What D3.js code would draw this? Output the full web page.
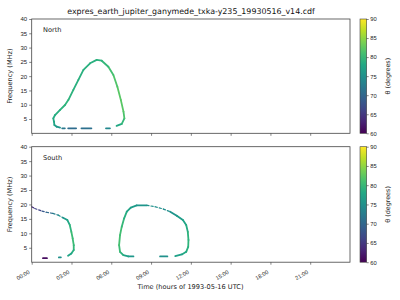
<!DOCTYPE html>
<html>
<head>
<meta charset="utf-8">
<script src="https://cdn.jsdelivr.net/npm/d3@7"></script>
<style>
  html, body { margin: 0; padding: 0; background: #fff; }
  svg { display: block; font-family: "DejaVu Sans", sans-serif; }
  .tick text { fill: #222; }
</style>
</head>
<body>
<svg id="chart" width="400" height="300"></svg>
<script>
// ==========================================================
// DATA
// each point: [hour of day, frequency MHz, theta degrees]
// ==========================================================

const titleText = "expres_earth_jupiter_ganymede_txka-y235_19930516_v14.cdf";
const xTickHours = [0, 3, 6, 9, 12, 15, 18, 21];
const yTicks = [5, 10, 15, 20, 25, 30, 35, 40];
const thetaTicks = [60, 65, 70, 75, 80, 85, 90];

const northLoop = [
    [6.40, 2.6, 77], [6.79, 3.3, 79], [6.99, 5.2, 81], [6.92, 7.6, 82],
    [6.72, 11.7, 82.5], [6.46, 16.3, 82], [6.16, 20.4, 81.5], [5.78, 23.3, 80.5],
    [5.28, 25.4, 79.5], [4.90, 25.7, 79], [4.40, 24.5, 79], [3.90, 22.2, 79],
    [3.52, 18.7, 79], [3.14, 15.2, 79], [2.77, 11.7, 79.5], [2.51, 9.9, 79.5],
    [2.14, 8.2, 79], [1.76, 6.4, 78.5], [1.63, 5.2, 78.5], [1.68, 4.06, 78],
    [1.71, 2.9, 77.5], [1.89, 2.3, 76.5], [2.14, 2.0, 75]
];
const northDashes = [
    [[2.3, 1.75, 72], [2.5, 1.75, 72]],
    [[2.75, 1.75, 70.5], [3.35, 1.75, 70.5]],
    [[3.75, 1.75, 71], [4.5, 1.75, 71]],
    [[5.6, 1.75, 74], [5.9, 1.75, 74]]
];

const southArcA = [
    [2.36, 15.4, 75.6], [2.69, 14.6, 77], [2.87, 12.9, 78.6], [2.99, 10.5, 80.4],
    [3.09, 8.2, 80.5], [3.17, 5.9, 80.5], [3.17, 4.2, 79.5], [2.99, 3.0, 78],
    [2.74, 2.2, 77]
];
const southArcASparse = [
    [0.00, 19.2, 63], [0.23, 18.6, 64.5], [0.78, 17.7, 67.5], [1.10, 17.3, 69],
    [1.60, 16.9, 71.4], [2.00, 16.3, 74], [2.36, 15.4, 75.6]
];
const southDashesA = [
    [[0.85, 1.4, 61], [1.15, 1.4, 61]],
    [[2.05, 1.66, 75], [2.2, 1.7, 75]]
];
const southLoop = [
    [7.67, 2.0, 76], [7.29, 2.0, 76], [6.91, 2.46, 78], [6.66, 3.6, 80],
    [6.59, 5.9, 81], [6.66, 9.4, 81], [6.79, 12.3, 80.5], [6.97, 15.2, 79.5],
    [7.17, 17.5, 78], [7.47, 18.9, 77], [7.92, 19.7, 76], [8.68, 19.7, 75.5]
];
const southLoopSparse = [
    [8.68, 19.7, 75.5], [9.31, 19.2, 75], [9.93, 18.4, 74.5], [10.44, 17.5, 75]
];
const southLoopRight = [
    [10.44, 17.5, 75], [10.94, 16.1, 76], [11.40, 14.6, 77], [11.65, 12.9, 78],
    [11.77, 10.5, 79], [11.82, 7.7, 79.5], [11.80, 5.3, 79.5], [11.65, 3.6, 78.5],
    [11.32, 2.7, 77.5], [10.82, 2.1, 76.5]
];
const southDashesB = [
    [[9.68, 2.0, 75], [10.23, 2.0, 75]]
];

// ==========================================================
// LAYOUT
// ==========================================================

const svg = d3.select("#chart");
const left = 31.7, right = 350;
const panels = [
    { top: 19, bottom: 133.3, label: "North", solid: [northLoop].concat(northDashes), sparse: [] },
    { top: 146.7, bottom: 262.2, label: "South",
      solid: [southArcA, southLoop, southLoopRight].concat(southDashesA, southDashesB),
      sparse: [southArcASparse, southLoopSparse] }
];

const x = d3.scaleLinear().domain([0, 24]).range([left, right]);
const color = d3.scaleSequential(d3.interpolateViridis).domain([60, 90]);
const fmtHour = h => String(h).padStart(2, "0") + ":00";

// title
svg.append("text")
    .attr("x", 191).attr("y", 13.5)
    .attr("text-anchor", "middle")
    .attr("font-size", 7.9)
    .attr("fill", "#111")
    .text(titleText);

// colorbar gradient
const grad = svg.append("defs").append("linearGradient")
    .attr("id", "viridis").attr("x1", 0).attr("y1", 1).attr("x2", 0).attr("y2", 0);
d3.range(0, 1.01, 0.1).forEach(t => {
    grad.append("stop").attr("offset", t).attr("stop-color", d3.interpolateViridis(t));
});

function drawSegments(g, y, seg, dashed) {
    for (let i = 0; i < seg.length - 1; i++) {
        const a = seg[i], b = seg[i + 1];
        g.append("line")
            .attr("x1", x(a[0])).attr("y1", y(a[1]))
            .attr("x2", x(b[0])).attr("y2", y(b[1]))
            .attr("stroke", color((a[2] + b[2]) / 2))
            .attr("stroke-width", dashed ? 1.2 : 1.8)
            .attr("stroke-dasharray", dashed ? "2.2,2" : null)
            .attr("stroke-linecap", "round");
    }
}

panels.forEach((p, idx) => {
    const y = d3.scaleLinear().domain([0, 40]).range([p.bottom, p.top]);
    const g = svg.append("g");

    // marks
    const marks = g.append("g");
    p.solid.forEach(seg => drawSegments(marks, y, seg, false));
    p.sparse.forEach(seg => drawSegments(marks, y, seg, true));

    // y axis
    const yAxis = g.append("g")
        .attr("transform", `translate(${left},0)`)
        .call(d3.axisLeft(y).tickValues(yTicks).tickSize(2.5).tickPadding(2));
    yAxis.select(".domain").remove();
    yAxis.selectAll("line").attr("stroke", "#333").attr("stroke-width", 0.6);
    yAxis.selectAll("text").attr("font-size", 6);

    // x axis
    const xAxis = g.append("g")
        .attr("transform", `translate(0,${p.bottom})`)
        .call(d3.axisBottom(x).tickValues(xTickHours).tickSize(2.5).tickFormat(fmtHour));
    xAxis.select(".domain").remove();
    xAxis.selectAll("line").attr("stroke", "#333").attr("stroke-width", 0.6);
    if (idx === 0) {
        xAxis.selectAll("text").remove();
    } else {
        xAxis.selectAll("text")
            .attr("font-size", 5.6)
            .attr("text-anchor", "end")
            .attr("dy", 0)
            .attr("y", 0)
            .attr("transform", "translate(-2,11) rotate(-30)");
    }

    // frame
    g.append("rect")
        .attr("x", left).attr("y", p.top)
        .attr("width", right - left).attr("height", p.bottom - p.top)
        .attr("fill", "none").attr("stroke", "#444").attr("stroke-width", 0.8);

    // panel label
    g.append("text")
        .attr("x", 43).attr("y", p.top + 13)
        .attr("font-size", 6.6).attr("fill", "#222")
        .text(p.label);

    // y label
    g.append("text")
        .attr("transform", `translate(12,${(p.top + p.bottom) / 2}) rotate(-90)`)
        .attr("text-anchor", "middle")
        .attr("font-size", 6.6).attr("fill", "#222")
        .text("Frequency (MHz)");

    // colorbar
    const cb = d3.scaleLinear().domain([60, 90]).range([p.bottom, p.top]);
    g.append("rect")
        .attr("x", 360).attr("y", p.top)
        .attr("width", 6.7).attr("height", p.bottom - p.top)
        .attr("fill", "url(#viridis)")
        .attr("stroke", "#444").attr("stroke-width", 0.6);
    const cbAxis = g.append("g")
        .attr("transform", "translate(366.7,0)")
        .call(d3.axisRight(cb).tickValues(thetaTicks).tickSize(2).tickPadding(1.5));
    cbAxis.select(".domain").remove();
    cbAxis.selectAll("line").attr("stroke", "#333").attr("stroke-width", 0.6);
    cbAxis.selectAll("text").attr("font-size", 5.8);
    g.append("text")
        .attr("transform", `translate(390,${(p.top + p.bottom) / 2}) rotate(-90)`)
        .attr("text-anchor", "middle")
        .attr("font-size", 6.4).attr("fill", "#222")
        .text("θ (degrees)");
});

// x label
svg.append("text")
    .attr("x", 190.5).attr("y", 289)
    .attr("text-anchor", "middle")
    .attr("font-size", 6.6).attr("fill", "#222")
    .text("Time (hours of 1993-05-16 UTC)");
</script>
</body>
</html>
